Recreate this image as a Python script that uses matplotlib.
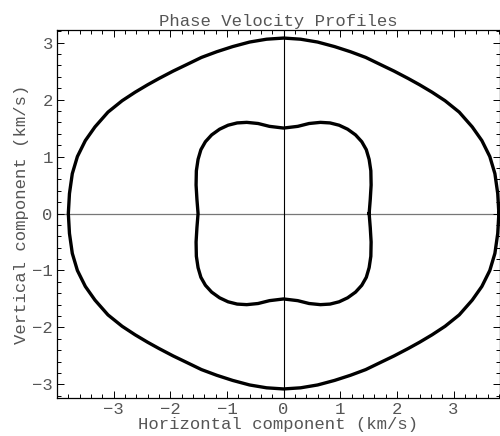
import numpy as np
import matplotlib
matplotlib.use("Agg")
import matplotlib.pyplot as plt
from matplotlib.ticker import MultipleLocator

plt.rcParams['font.family'] = ['Liberation Mono', 'DejaVu Sans Mono']

# first-quadrant points (km/s); curves are symmetric
outer_x = [3.80, 3.78, 3.73, 3.64, 3.50, 3.33, 3.10, 2.85, 2.62, 2.40,
           2.20, 1.95, 1.72, 1.45, 1.18, 0.90, 0.60, 0.30, 0.00]
outer_y = [0.00, 0.35, 0.70, 1.00, 1.28, 1.52, 1.78, 1.98, 2.13, 2.26,
           2.37, 2.50, 2.61, 2.74, 2.84, 2.93, 3.01, 3.06, 3.08]

inner_x = [1.51, 1.53, 1.545, 1.54, 1.51, 1.46, 1.38, 1.27, 1.13, 0.98,
           0.82, 0.65, 0.45, 0.25, 0.00]
inner_y = [0.00, 0.25, 0.50, 0.75, 0.95, 1.12, 1.26, 1.38, 1.48, 1.55,
           1.59, 1.60, 1.58, 1.53, 1.50]

x_ticks = [-3, -2, -1, 0, 1, 2, 3]
y_ticks = [-3, -2, -1, 0, 1, 2, 3]


def closed_curve(qx, qy):
    # mirror the quadrant into a closed loop
    qx = np.array(qx)
    qy = np.array(qy)
    xs = np.concatenate([qx, -qx[::-1], -qx, qx[::-1]])
    ys = np.concatenate([qy, qy[::-1], -qy, -qy[::-1]])
    return xs, ys


text_col = '#555555'
fs = 12.4
fig = plt.figure(figsize=(5.0, 4.36), dpi=100)
ax = fig.add_axes([0.114, 0.087, 0.886, 0.844])

ax.axhline(0, color='#777777', linewidth=0.9, zorder=1)
ax.axvline(0, color='black', linewidth=0.8, zorder=1)

for qx, qy in [(outer_x, outer_y), (inner_x, inner_y)]:
    xs, ys = closed_curve(qx, qy)
    ax.plot(xs, ys, color='black', linewidth=2.4, solid_joinstyle='round', zorder=3)

ax.set_xlim(-4.0, 3.82)
ax.set_ylim(-3.24, 3.22)

ax.set_xticks(x_ticks)
ax.set_yticks(y_ticks)
ax.xaxis.set_minor_locator(MultipleLocator(0.2))
ax.yaxis.set_minor_locator(MultipleLocator(0.2))
ax.tick_params(which='both', direction='in', top=True, right=True,
               colors='black', labelcolor=text_col, labelsize=fs, width=0.7)
ax.tick_params(which='major', length=5, pad=3)
ax.tick_params(which='minor', length=3)

for sp in ax.spines.values():
    sp.set_linewidth(0.9)

ax.set_title('Phase Velocity Profiles', fontsize=fs, color=text_col, pad=3)
ax.set_xlabel('Horizontal component (km/s)', fontsize=fs, color=text_col, labelpad=0)
ax.set_ylabel('Vertical component (km/s)', fontsize=fs, color=text_col, labelpad=2)

fig.savefig('out.png', dpi=100)
